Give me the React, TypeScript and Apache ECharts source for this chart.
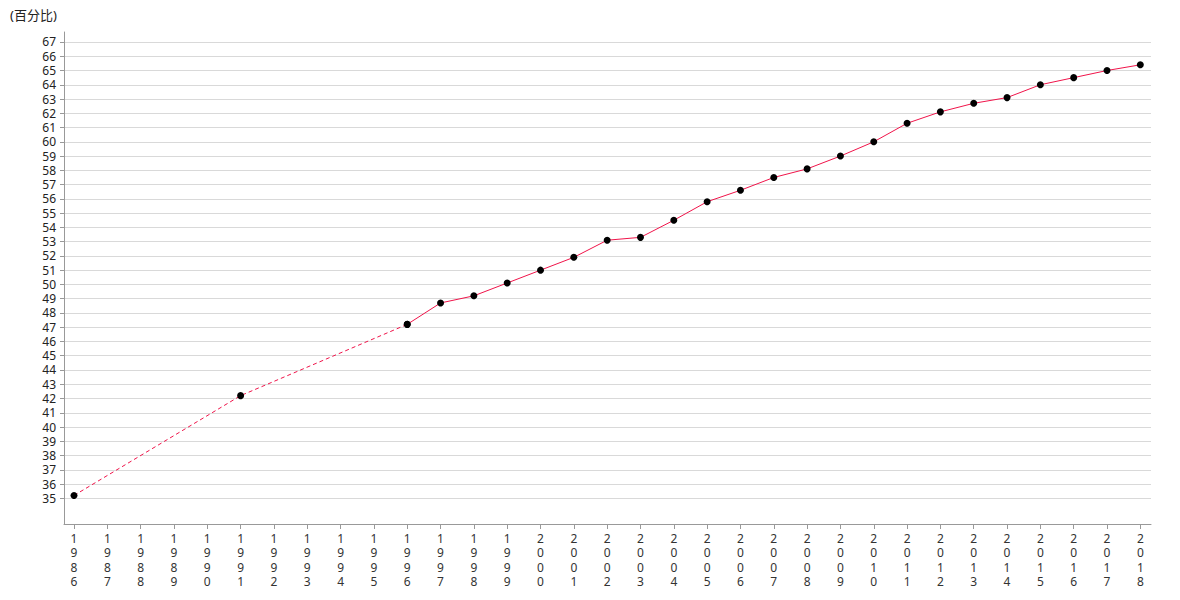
import React, { useEffect, useRef } from "react";
import * as echarts from "echarts";

const tickYears: number[] = [1986,1987,1988,1989,1990,1991,1992,1993,1994,1995,1996,1997,1998,1999,2000,2001,2002,2003,2004,2005,2006,2007,2008,2009,2010,2011,2012,2013,2014,2015,2016,2017,2018];
const yTicks: number[] = [35,36,37,38,39,40,41,42,43,44,45,46,47,48,49,50,51,52,53,54,55,56,57,58,59,60,61,62,63,64,65,66,67];

const sparseYears: number[] = [1986, 1991, 1996];
const sparseValues: number[] = [35.2, 42.2, 47.2];

const annualYears: number[] = [1996,1997,1998,1999,2000,2001,2002,2003,2004,2005,2006,2007,2008,2009,2010,2011,2012,2013,2014,2015,2016,2017,2018];
const annualValues: number[] = [47.2,48.7,49.2,50.1,51.0,51.9,53.1,53.3,54.5,55.8,56.6,57.5,58.1,59.0,60.0,61.3,62.1,62.7,63.1,64.0,64.5,65.0,65.4];

const unitLabel = "(百分比)";

const FONT = "'Noto Sans', 'Noto Sans CJK SC', sans-serif";
const LINE_COLOR = "#f0144a";

export default function App() {
  const ref = useRef<HTMLDivElement>(null);
  useEffect(() => {
    if (!ref.current) return;
    const chart = echarts.init(ref.current, undefined, { renderer: "svg" });
    chart.setOption({
      animation: false,
      textStyle: { fontFamily: FONT },
      grid: { left: 64, right: 29, top: 32, bottom: 76, containLabel: false },
      graphic: [
        {
          type: "text",
          left: 10,
          top: 8,
          style: { text: unitLabel, fontSize: 13, fill: "#222", fontFamily: FONT },
        },
      ],
      xAxis: {
        type: "value",
        min: 1985.7,
        max: 2018.32,
        axisLine: { show: true, lineStyle: { color: "#999" } },
        axisTick: { show: true, length: 5, lineStyle: { color: "#999" }, customValues: tickYears },
        axisLabel: {
          customValues: tickYears,
          color: "#333",
          fontSize: 12,
          lineHeight: 14.5,
          margin: 7,
          verticalAlign: "top",
          formatter: (v: number) => String(v).split("").join("\n"),
        },
        splitLine: { show: false },
      },
      yAxis: {
        type: "value",
        min: 33.2,
        max: 67.7,
        axisLine: { show: true, lineStyle: { color: "#999" } },
        axisTick: { show: true, length: 4, lineStyle: { color: "#999" }, customValues: yTicks },
        axisLabel: { customValues: yTicks, color: "#222", fontSize: 12, lineHeight: 12, margin: 8 },
        splitLine: { show: true, lineStyle: { color: "#d9d9d9", width: 1 } },
      },
      series: [
        {
          type: "line",
          data: sparseYears.map((y, i) => [y, sparseValues[i]]),
          lineStyle: { color: LINE_COLOR, width: 1, type: [4, 3] },
          symbol: "circle",
          symbolSize: 7,
          itemStyle: { color: "#000" },
          z: 2,
        },
        {
          type: "line",
          data: annualYears.map((y, i) => [y, annualValues[i]]),
          lineStyle: { color: LINE_COLOR, width: 1 },
          symbol: "circle",
          symbolSize: 7,
          itemStyle: { color: "#000" },
          z: 3,
        },
      ],
    });
    return () => chart.dispose();
  }, []);
  return <div ref={ref} style={{ width: 1180, height: 600, position: "absolute", left: 0, top: 0 }} />;
}
